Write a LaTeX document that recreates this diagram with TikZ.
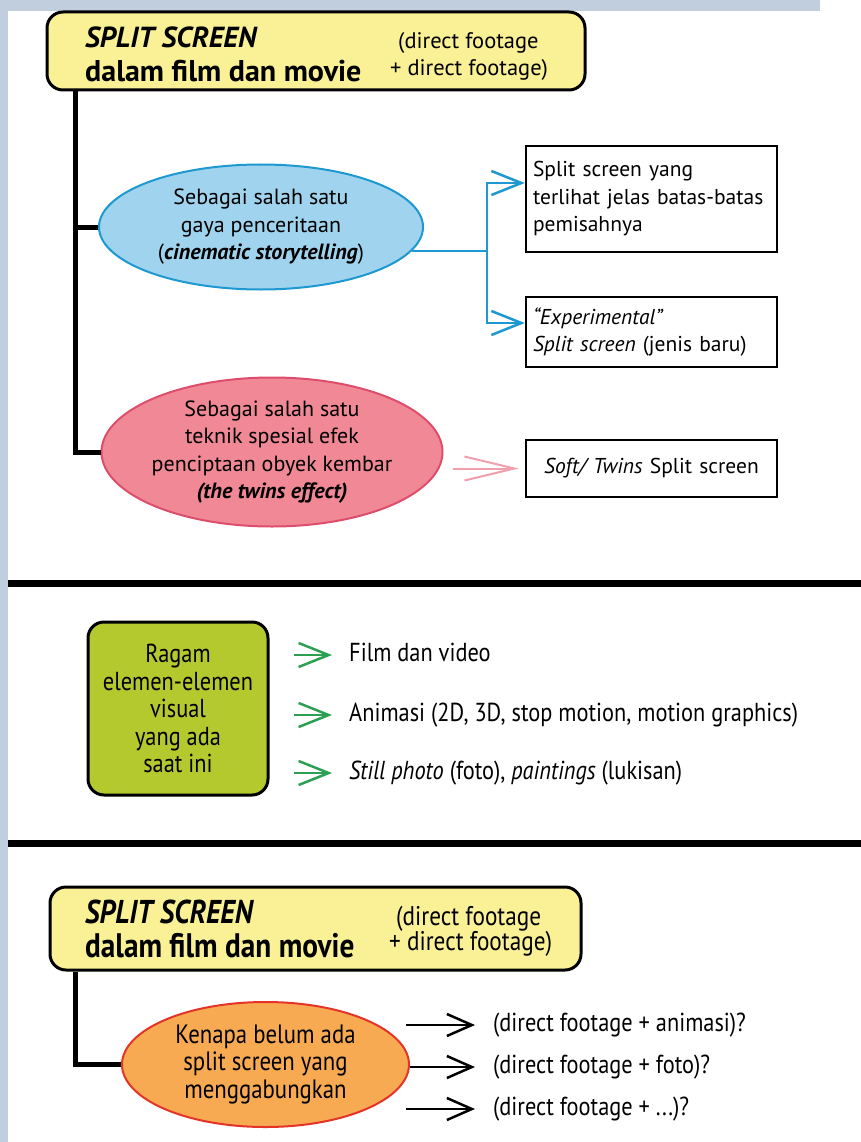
\documentclass[tikz,border=0pt]{standalone}
\usepackage{fontspec}
\setmainfont{PT Sans}
\newfontfamily\narrowsf[FakeStretch=0.86]{PT Sans}
\usetikzlibrary{shapes.geometric, arrows.meta}
\definecolor{wmark}{RGB}{192,206,222}
\definecolor{ttlyellow}{RGB}{250,241,150}
\definecolor{bluefill}{RGB}{160,212,238}
\definecolor{blueline}{RGB}{30,152,208}
\definecolor{pinkfill}{RGB}{240,136,150}
\definecolor{pinkline}{RGB}{222,78,108}
\definecolor{pinkarrow}{RGB}{240,160,172}
\definecolor{greenfill}{RGB}{180,201,46}
\definecolor{greenarrow}{RGB}{44,160,82}
\definecolor{orangefill}{RGB}{247,170,82}
\definecolor{orangeline}{RGB}{228,52,40}
\newcommand\txtsz[1]{\fontsize{#1}{27.5}\selectfont}

\begin{document}
\begin{tikzpicture}[x=1pt, y=-1pt,
  txt/.style={inner sep=0pt},
  ttlbox/.style={draw, line width=3pt, rounded corners=16pt, fill=ttlyellow},
  oval/.style={ellipse, line width=2pt, inner sep=0pt},
  ovaltxt/.style={align=center, inner sep=0pt, font=\txtsz{22}},
  sbox/.style={draw, line width=2.5pt, minimum width=251pt, text width=237pt, align=left, inner xsep=7pt, font=\txtsz{21.5}},
  gbox/.style={draw, line width=3pt, rounded corners=16pt, fill=greenfill, minimum width=180pt, minimum height=173pt, align=center, inner sep=0pt, font=\narrowsf\txtsz{26}},
  itemtxt/.style={anchor=west, inner sep=0pt, text height=17pt, text depth=5pt, font=\narrowsf\txtsz{26}},
  tree/.style={line width=5pt},
  sepline/.style={line width=7pt},
  bline/.style={draw=blueline, line width=2.5pt},
  barrow/.style={bline, -{Straight Barb[length=30pt, width=24pt]}},
  parrow/.style={draw=pinkarrow, line width=2pt, -{Straight Barb[length=50pt, width=24pt]}},
  garrow/.style={draw=greenarrow, line width=2.5pt, -{Straight Barb[length=30pt, width=24pt]}},
  karrow/.style={line width=2.5pt, -{Straight Barb[length=25pt, width=22pt]}}]
\useasboundingbox (0,0) rectangle (861,1142);
\fill[white] (0,0) rectangle (861,1142);
\fill[wmark] (0,0) rectangle (820,11);
\fill[wmark] (0,11) rectangle (8,1142);
\coordinate (trunk) at (75,0);

\node[ttlbox, minimum width=538pt, minimum height=78pt] (ttl) at (316,51) {};
\node[txt, anchor=base west, font=\fontsize{29}{30}\selectfont] (ttlA) at (85,48) {\textbf{\textit{SPLIT SCREEN}}};
\node[txt, anchor=base west, font=\fontsize{30}{30}\selectfont] (ttlB) at (85,82) {\textbf{dalam film dan movie}};
\node[txt, anchor=base west, font=\txtsz{22.5}] (ttlC) at (398,49) {(direct footage};
\node[txt, anchor=base west, font=\txtsz{22.5}] (ttlD) at (390,76) {+ direct footage)};

\node[oval, fill=bluefill, draw=blueline, minimum width=324pt, minimum height=125pt] (gaya) at (261,227) {};
\node[ovaltxt] (gayaT) at (gaya) {Sebagai salah satu\\gaya penceritaan\\(\textbf{\textit{cinematic storytelling}})};
\node[oval, fill=pinkfill, draw=pinkline, minimum width=341pt, minimum height=149pt] (twin) at (272,452) {};
\node[ovaltxt] (twinT) at (twin) {Sebagai salah satu\\teknik spesial efek\\penciptaan obyek kembar\\\textbf{\textit{(the twins effect)}}};

\node[sbox, minimum height=106pt] (jelas) at (651.5,199) {Split screen yang\\terlihat jelas \mbox{batas-batas}\\pemisahnya};
\node[sbox, minimum height=70pt] (exper) at (651.5,332) {\textit{“Experimental”}\\\textit{Split screen} (jenis baru)};
\node[sbox, minimum height=57pt, align=center] (soft) at (651.5,468.5) {\textit{Soft/ Twins} Split screen};

\draw[tree] (trunk |- ttl.south) -- (trunk |- twin.west) -- (twin.west);
\draw[tree] (trunk |- gaya.west) -- (gaya.west);
\draw[bline] (gaya.-9) -- (gaya.-9 -| 487,0) coordinate (fk);
\draw[barrow] (fk) |- ([yshift=16pt]jelas.west);
\draw[barrow] (fk) |- ([yshift=9pt]exper.west);
\draw[parrow] ([xshift=9pt]twin.east |- soft.west) -- ([xshift=-6pt]soft.west);

\draw[sepline] (8,583) -- (861,583);
\draw[sepline] (8,843) -- (861,843);

\node[gbox] (ragam) at (178,708.5) {Ragam\\elemen-elemen\\visual\\yang ada\\saat ini};
\node[itemtxt] (film) at (349,655) {Film dan video};
\node[itemtxt] (anim) at (349,715) {Animasi (2D, 3D, stop motion, motion graphics)};
\node[itemtxt] (still) at (349,773) {\textit{Still photo} (foto), \textit{paintings} (lukisan)};
\draw[garrow] ([xshift=-55pt]film.west) -- ([xshift=-17pt]film.west);
\draw[garrow] ([xshift=-55pt]anim.west) -- ([xshift=-17pt]anim.west);
\draw[garrow] ([xshift=-55pt]still.west) -- ([xshift=-17pt]still.west);

\node[ttlbox, minimum width=531pt, minimum height=83pt] (ttl2) at (315.5,928.5) {};
\node[txt, anchor=base west, font=\narrowsf\fontsize{33}{34}\selectfont] (ttl2A) at (85,923) {\textbf{\textit{SPLIT SCREEN}}};
\node[txt, anchor=base west, font=\narrowsf\fontsize{34}{34}\selectfont] (ttl2B) at (85,957) {\textbf{dalam film dan movie}};
\node[txt, anchor=base west, font=\narrowsf\txtsz{27}] (ttl2C) at (396,925) {(direct footage};
\node[txt, anchor=base west, font=\narrowsf\txtsz{27}] (ttl2D) at (389,950) {+ direct footage)};

\node[oval, fill=orangefill, draw=orangeline, minimum width=287pt, minimum height=125pt] (kenapa) at (265.5,1064.5) {};
\node[ovaltxt, font=\narrowsf\txtsz{26.5}] (kenapaT) at (kenapa) {Kenapa belum ada\\split screen yang\\menggabungkan};
\draw[tree] (trunk |- ttl2.south) -- (trunk |- kenapa.west) -- (kenapa.west);

\node[itemtxt] (qanim) at (493,1025) {(direct footage + animasi)?};
\node[itemtxt] (qfoto) at (493,1067) {(direct footage + foto)?};
\node[itemtxt] (qetc) at (493,1109) {(direct footage + ...)?};
\draw[karrow] ([xshift=-87pt]qanim.west) -- ([xshift=-18pt]qanim.west);
\draw[karrow] (kenapa.east |- qfoto.west) -- ([xshift=-18pt]qfoto.west);
\draw[karrow] ([xshift=-87pt]qetc.west) -- ([xshift=-18pt]qetc.west);
\end{tikzpicture}
\end{document}
